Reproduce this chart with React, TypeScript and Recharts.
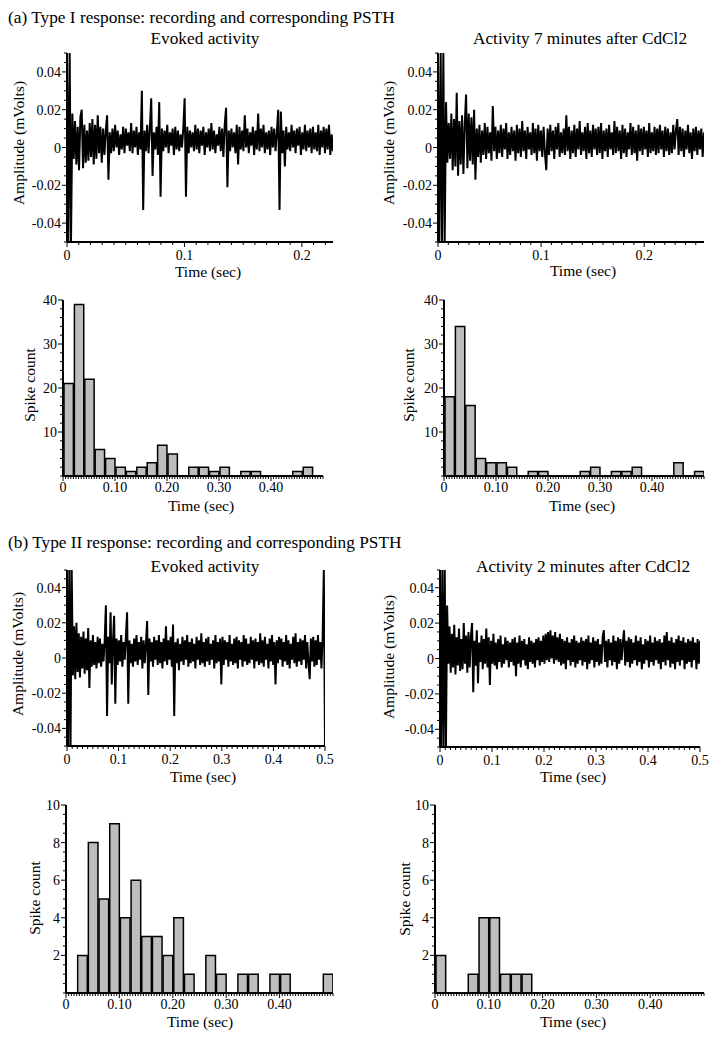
import React from 'react';
import { LineChart, Line, BarChart, Bar, XAxis, YAxis } from 'recharts';

const FONT = '"Liberation Serif", "Times New Roman", Times, serif';

// ---------- Recordings (amplitude in units of 0.001 mV) ----------
const AMP_UNIT = 0.001;

const EVOKED_A_DURATION = 0.2265;
const EVOKED_A_SAMPLES = [
  50, -50, 50, -50, 18, -6, 14, -9, 11, -12, 16, 20, -11, 12, -8, 9, -7, 13, -5, 15,
  -9, 12, -6, 17, -3, 11, -8, 10, -4, 9, 17, -17, 8, -3, 10, -2, 12, 0, 9, -4,
  7, -1, 11, -3, 10, 1, 8, -2, 13, -3, 9, 0, 11, -4, 8, -1, 30, -33, 9, -2,
  12, -3, 10, 26, -15, 8, -1, 11, -4, 24, -26, 10, -2, 9, 0, 12, -3, 8, 1, 10,
  -4, 11, -1, 9, -2, 7, 0, 10, 26, -26, 11, -3, 9, 0, 8, -2, 12, -1, 10, -3,
  9, 1, 11, -4, 8, 0, 10, -2, 13, -1, 9, -3, 7, 1, 11, -2, 10, -5, 12, 21,
  -21, 9, -2, 10, 0, 8, -3, 12, -9, 11, -1, 9, -2, 17, 0, 10, -3, 8, 1, 11,
  -4, 9, -1, 18, -2, 10, 0, 12, -3, 8, -1, 9, -4, 11, 0, 10, -2, 8, 20, -33,
  19, -3, 9, -10, 11, -1, 8, -2, 12, 0, 9, -3, 10, 1, 11, -4, 8, -1, 12, -2,
  9, 0, 10, -3, 11, -1, 8, -2, 12, -4, 9, 0, 11, -3, 10, -1, 12, -4, 7, -2,
];

const CDCL2_A_DURATION = 0.258;
const CDCL2_A_SAMPLES = [
  50, -50, 50, -50, 50, -50, 24, -8, 13, -6, 18, -12, 15, -10, 29, -15, 14, -9, 17, -14,
  12, 28, -11, 18, -7, 16, -9, 20, -17, 10, -5, 12, -8, 9, -4, 13, -6, 11, -3, 8,
  -7, 22, -2, 11, -6, 9, -3, 12, -5, 10, -1, 13, -6, 8, -4, 11, -2, 9, -7, 12,
  -3, 10, -5, 14, -2, 9, -6, 11, -1, 8, -4, 13, -3, 10, -7, 12, -2, 9, -5, 11,
  -3, -12, 10, -4, 12, -2, 9, -6, 11, -1, 13, -5, 8, -3, 10, -4, 17, -2, 11, -6,
  9, -3, 12, -5, 10, -1, 14, -4, 8, -2, 11, -6, 13, -3, 9, -5, 12, -1, 10, -4,
  11, -3, 13, -6, 9, -2, 10, -5, 12, -1, 8, -4, 14, -3, 11, -2, 9, -6, 12, -3,
  10, -5, 8, -1, 13, -4, 11, -3, 9, -7, 12, -2, 10, -4, 11, -1, 9, -5, 13, -3,
  8, -2, 11, -4, 10, -3, 12, -1, 9, -5, 11, -2, 10, -4, 8, -3, 12, -1, 9, 15,
  -4, 11, -2, 10, -5, 9, -1, 12, -3, 8, -6, 10, -2, 11, -4, 9, -1, 10, -5, 8,
];

const EVOKED_B_DURATION = 0.5;
const EVOKED_B_SAMPLES = [
  50, -50, 50, -50, 50, -10, 18, -12, 20, -8, 14, -11, 12, -6, 15, -9, 11, -7, 17, -17,
  10, -5, 13, -4, 9, -6, 12, -3, 11, -5, 8, -2, 10, 30, -33, 12, -3, 26, -15, 9,
  24, -26, 11, -4, 10, -2, 13, -5, 9, -1, 12, 26, -26, 10, -3, 8, -5, 11, -2, 13,
  -4, 9, -1, 12, -6, 10, -3, 8, 21, -21, 11, -2, 9, -5, 12, -1, 10, -4, 13, -3,
  9, -6, 11, -2, 18, -4, 10, -1, 12, -5, 19, -33, 9, -3, 11, -7, 8, -2, 12, -4,
  10, -1, 13, -5, 9, -3, 11, -2, 8, -6, 12, -1, 10, -4, 14, -3, 9, -5, 11, -2,
  12, -4, 8, -1, 10, -6, 13, -3, 9, -2, 11, -15, 12, -4, 10, -1, 9, -5, 13, -2,
  8, -4, 11, -3, 12, -6, 10, -1, 9, -5, 13, -2, 11, -4, 8, -3, 12, -1, 10, -6,
  11, -2, 9, -4, 14, -3, 10, -5, 12, -1, 8, -6, 11, -2, 13, -4, 9, -15, 10, -3,
  12, -1, 11, -5, 9, -2, 13, -4, 10, -6, 8, -1, 12, -3, 14, -5, 9, -2, 11, -4,
  10, -1, 13, -6, 9, -3, -12, 11, -2, 12, -5, 10, -4, 13, -1, 9, -6, 12, 50, -50,
];

const CDCL2_B_DURATION = 0.5;
const CDCL2_B_SAMPLES = [
  50, -50, 50, -50, 50, -50, 30, -3, 18, -8, 14, -5, 19, -9, 12, -4, 17, -7, 11, -6,
  20, -3, 13, -8, 15, -5, 12, 20, -19, 10, -4, 16, -14, 9, -2, 13, -6, 11, -3, 17,
  -5, 12, -15, 10, -3, 14, -4, 9, -6, 11, -2, 13, -5, 8, -3, 12, -1, 10, -5, 9,
  -2, 11, -4, 12, -10, 9, -3, 13, -5, 10, -1, 11, -4, 8, -6, 12, -2, 10, -3, 9,
  -5, 11, -1, 12, -4, 10, -2, 13, -3, 14, -1, 15, -2, 16, 0, 13, -3, 15, -1, 12,
  -2, 14, -4, 11, -3, 10, -6, 12, -1, 9, -4, 11, -2, 13, -5, 10, -3, 9, -1, 12,
  -4, 10, -2, 11, -6, 13, -3, 9, -1, 12, -5, 10, -2, 11, -4, 8, -3, 12, 16, -2,
  10, -5, 11, -1, 9, -4, 13, -2, 10, -6, 12, -3, 11, -1, 9, 16, -4, 10, -2, 12,
  -5, 11, -3, 9, -1, 13, -4, 10, -2, 12, -6, 8, -3, 11, -1, 10, -5, 13, -2, 9,
  -4, 12, -1, 10, -3, 11, -6, 9, -2, 13, -4, 15, -1, 10, -5, 12, -3, 9, -6, 11,
  -2, 13, -4, 10, -1, 12, -6, 9, -3, 11, -2, 10, -5, 12, -1, 9, -6, 11, -3, 10,
];

// ---------- PSTH (spike counts per 0.02 s bin) ----------
const BIN_WIDTH = 0.02;
const PSTH_EVOKED_A = [21, 39, 22, 6, 4, 2, 1, 2, 3, 7, 5, 0, 2, 2, 1, 2, 0, 1, 1, 0, 0, 0, 1, 2, 0];
const PSTH_CDCL2_A = [18, 34, 16, 4, 3, 3, 2, 0, 1, 1, 0, 0, 0, 1, 2, 0, 1, 1, 2, 0, 0, 0, 3, 0, 1];
const PSTH_EVOKED_B = [0, 2, 8, 5, 9, 4, 6, 3, 3, 2, 4, 1, 0, 2, 1, 0, 1, 1, 0, 1, 1, 0, 0, 0, 1];
const PSTH_CDCL2_B = [2, 0, 0, 1, 4, 4, 1, 1, 1, 0, 0, 0, 0, 0, 0, 0, 0, 0, 0, 0, 0, 0, 0, 0, 0];

// ---------- Tick values / labels ----------
const AMP_TICKS = [-0.04, -0.02, 0, 0.02, 0.04];
const AMP_LABELS = ['-0.04', '-0.02', '0', '0.02', '0.04'];
const TIME_TICKS_SHORT = [0, 0.1, 0.2];
const TIME_LABELS_SHORT = ['0', '0.1', '0.2'];
const TIME_TICKS_LONG = [0, 0.1, 0.2, 0.3, 0.4, 0.5];
const TIME_LABELS_LONG = ['0', '0.1', '0.2', '0.3', '0.4', '0.5'];
const PSTH_TIME_TICKS = [0, 0.1, 0.2, 0.3, 0.4];
const PSTH_TIME_LABELS = ['0', '0.10', '0.20', '0.30', '0.40'];
const COUNT_TICKS_A = [10, 20, 30, 40];
const COUNT_LABELS_A = ['10', '20', '30', '40'];
const COUNT_TICKS_B = [2, 4, 6, 8, 10];
const COUNT_LABELS_B = ['2', '4', '6', '8', '10'];

const range = (a: number, b: number, step: number) => {
  const n = Math.round((b - a) / step);
  const out: number[] = [];
  for (let i = 0; i <= n; i++) out.push(+(a + i * step).toFixed(6));
  return out;
};

type Rect = { x0: number; y0: number; x1: number; y1: number };
const PAD_L = 70;
const PAD_T = 10;
const PAD_R = 10;
const AX_H = 40;
const TICK_FS = 14;

function makeXTick(majors: number[], labels: string[], labelDy: number) {
  return (props: any) => {
    const { x, y, payload } = props;
    const k = majors.findIndex((m) => Math.abs(m - payload.value) < 1e-7);
    const major = k >= 0;
    return (
      <g>
        <line x1={x} x2={x} y1={y} y2={y + (major ? 5 : 3)} stroke="#000" strokeWidth={1} />
        {major && (
          <text x={x} y={y + labelDy} textAnchor="middle" fontFamily={FONT} fontSize={TICK_FS} fill="#000">
            {labels[k]}
          </text>
        )}
      </g>
    );
  };
}

function makeYTick(majors: number[], labels: string[]) {
  return (props: any) => {
    const { x, y, payload } = props;
    const k = majors.findIndex((m) => Math.abs(m - payload.value) < 1e-7);
    const major = k >= 0;
    return (
      <g>
        <line x1={x - (major ? 5 : 3)} x2={x} y1={y} y2={y} stroke="#000" strokeWidth={1} />
        {major && (
          <text x={x - 6} y={y + 5} textAnchor="end" fontFamily={FONT} fontSize={TICK_FS} fill="#000">
            {labels[k]}
          </text>
        )}
      </g>
    );
  };
}

function frameStyle(r: Rect): React.CSSProperties {
  return { position: 'absolute', left: r.x0 - PAD_L, top: r.y0 - PAD_T };
}

function Recording(props: {
  samples: number[];
  duration: number;
  rect: Rect;
  timeTicks: number[];
  timeLabels: string[];
}) {
  const { samples, duration, rect, timeTicks, timeLabels } = props;
  const data = samples.map((v, i) => ({ t: (i * duration) / (samples.length - 1), v: v * AMP_UNIT }));
  const w = rect.x1 - rect.x0 + PAD_L + PAD_R;
  const h = rect.y1 - rect.y0 + PAD_T + AX_H;
  const xMinor = range(0, Math.floor(duration * 100) / 100, 0.01);
  const yMinor = range(-0.05, 0.05, 0.005);
  return (
    <div style={frameStyle(rect)}>
      <LineChart width={w} height={h} data={data} margin={{ top: PAD_T, right: PAD_R, bottom: 0, left: 0 }}>
        <XAxis
          dataKey="t"
          type="number"
          domain={[0, duration]}
          allowDataOverflow
          ticks={xMinor}
          interval={0}
          tickLine={false}
          tickSize={0}
          tickMargin={0}
          height={AX_H}
          axisLine={{ stroke: '#000', strokeWidth: 2 }}
          tick={makeXTick(timeTicks, timeLabels, 17.5)}
        />
        <YAxis
          type="number"
          domain={[-0.05, 0.05]}
          allowDataOverflow
          ticks={yMinor}
          interval={0}
          tickLine={false}
          tickSize={0}
          tickMargin={0}
          width={PAD_L}
          axisLine={{ stroke: '#000', strokeWidth: 2 }}
          tick={makeYTick(AMP_TICKS, AMP_LABELS)}
        />
        <Line
          dataKey="v"
          type="linear"
          stroke="#000"
          strokeWidth={2}
          strokeLinejoin="bevel"
          dot={false}
          activeDot={false}
          isAnimationActive={false}
        />
      </LineChart>
    </div>
  );
}

function Psth(props: {
  counts: number[];
  rect: Rect;
  yMax: number;
  yTicks: number[];
  yLabels: string[];
  yMinorStep: number;
}) {
  const { counts, rect, yMax, yTicks, yLabels, yMinorStep } = props;
  const data = counts.map((c, i) => ({ x: (i + 0.5) * BIN_WIDTH, c }));
  const xMax = counts.length * BIN_WIDTH;
  const plotW = rect.x1 - rect.x0;
  const w = plotW + PAD_L + PAD_R;
  const h = rect.y1 - rect.y0 + PAD_T + AX_H;
  const xMinor = range(0, xMax, 0.005);
  const yMinor = range(0, yMax, yMinorStep);
  return (
    <div style={frameStyle(rect)}>
      <BarChart
        width={w}
        height={h}
        data={data}
        margin={{ top: PAD_T, right: PAD_R, bottom: 0, left: 0 }}
        barCategoryGap={0}
        barGap={0}
      >
        <XAxis
          dataKey="x"
          type="number"
          domain={[0, xMax]}
          allowDataOverflow
          ticks={xMinor}
          interval={0}
          tickLine={false}
          tickSize={0}
          tickMargin={0}
          height={AX_H}
          axisLine={{ stroke: '#000', strokeWidth: 2 }}
          tick={makeXTick(PSTH_TIME_TICKS, PSTH_TIME_LABELS, 16)}
        />
        <YAxis
          type="number"
          domain={[0, yMax]}
          allowDataOverflow
          ticks={yMinor}
          interval={0}
          tickLine={false}
          tickSize={0}
          tickMargin={0}
          width={PAD_L}
          axisLine={{ stroke: '#000', strokeWidth: 2 }}
          tick={makeYTick(yTicks, yLabels)}
        />
        <Bar
          dataKey="c"
          fill="#bdbdbd"
          stroke="#000"
          strokeWidth={1.5}
          barSize={(plotW * BIN_WIDTH) / xMax}
          isAnimationActive={false}
        />
      </BarChart>
    </div>
  );
}

// ---------- Layout ----------
const R_A1: Rect = { x0: 67, y0: 53, x1: 333, y1: 242 };
const R_A2: Rect = { x0: 438, y0: 53, x1: 704, y1: 242 };
const R_A3: Rect = { x0: 63, y0: 300, x1: 323, y1: 476 };
const R_A4: Rect = { x0: 444, y0: 300, x1: 704, y1: 476 };
const R_B1: Rect = { x0: 67, y0: 570, x1: 325, y1: 746 };
const R_B2: Rect = { x0: 440, y0: 570, x1: 700, y1: 747 };
const R_B3: Rect = { x0: 66, y0: 805, x1: 333, y1: 993 };
const R_B4: Rect = { x0: 435, y0: 805, x1: 704, y1: 993 };

const HEAD_FS = 17.3;
const AXT_FS = 15.5;

const Txt = (p: { x: number; y: number; size: number; anchor?: string; children: React.ReactNode }) => (
  <text x={p.x} y={p.y} fontFamily={FONT} fontSize={p.size} fill="#000" textAnchor={(p.anchor as any) || 'middle'}>
    {p.children}
  </text>
);

const VTxt = (p: { cx: number; cy: number; children: React.ReactNode }) => {
  const bx = p.cx + 5;
  return (
    <text
      x={bx}
      y={p.cy}
      transform={`rotate(-90 ${bx} ${p.cy})`}
      fontFamily={FONT}
      fontSize={AXT_FS}
      fill="#000"
      textAnchor="middle"
    >
      {p.children}
    </text>
  );
};

export default function App() {
  return (
    <div style={{ position: 'absolute', left: 0, top: 0, width: 714, height: 1038, background: '#fff', overflow: 'hidden' }}>
      <Recording samples={EVOKED_A_SAMPLES} duration={EVOKED_A_DURATION} rect={R_A1} timeTicks={TIME_TICKS_SHORT} timeLabels={TIME_LABELS_SHORT} />
      <Recording samples={CDCL2_A_SAMPLES} duration={CDCL2_A_DURATION} rect={R_A2} timeTicks={TIME_TICKS_SHORT} timeLabels={TIME_LABELS_SHORT} />
      <Psth counts={PSTH_EVOKED_A} rect={R_A3} yMax={40} yTicks={COUNT_TICKS_A} yLabels={COUNT_LABELS_A} yMinorStep={2} />
      <Psth counts={PSTH_CDCL2_A} rect={R_A4} yMax={40} yTicks={COUNT_TICKS_A} yLabels={COUNT_LABELS_A} yMinorStep={2} />
      <Recording samples={EVOKED_B_SAMPLES} duration={EVOKED_B_DURATION} rect={R_B1} timeTicks={TIME_TICKS_LONG} timeLabels={TIME_LABELS_LONG} />
      <Recording samples={CDCL2_B_SAMPLES} duration={CDCL2_B_DURATION} rect={R_B2} timeTicks={TIME_TICKS_LONG} timeLabels={TIME_LABELS_LONG} />
      <Psth counts={PSTH_EVOKED_B} rect={R_B3} yMax={10} yTicks={COUNT_TICKS_B} yLabels={COUNT_LABELS_B} yMinorStep={0.5} />
      <Psth counts={PSTH_CDCL2_B} rect={R_B4} yMax={10} yTicks={COUNT_TICKS_B} yLabels={COUNT_LABELS_B} yMinorStep={0.5} />

      <svg width={714} height={1038} style={{ position: 'absolute', left: 0, top: 0, pointerEvents: 'none' }}>
        <Txt x={8} y={23} size={HEAD_FS} anchor="start">(a) Type I response: recording and corresponding PSTH</Txt>
        <Txt x={205} y={44} size={HEAD_FS}>Evoked activity</Txt>
        <Txt x={580} y={44} size={HEAD_FS}>Activity 7 minutes after CdCl2</Txt>
        <Txt x={8} y={548} size={HEAD_FS} anchor="start">(b) Type II response: recording and corresponding PSTH</Txt>
        <Txt x={205} y={572} size={HEAD_FS}>Evoked activity</Txt>
        <Txt x={583} y={572} size={HEAD_FS}>Activity 2 minutes after CdCl2</Txt>

        <VTxt cx={18.5} cy={143}>Amplitude (mVolts)</VTxt>
        <VTxt cx={389} cy={143}>Amplitude (mVolts)</VTxt>
        <VTxt cx={30} cy={385}>Spike count</VTxt>
        <VTxt cx={409} cy={385}>Spike count</VTxt>
        <VTxt cx={18} cy={654}>Amplitude (mVolts)</VTxt>
        <VTxt cx={389} cy={657}>Amplitude (mVolts)</VTxt>
        <VTxt cx={35} cy={898}>Spike count</VTxt>
        <VTxt cx={405} cy={899}>Spike count</VTxt>

        <Txt x={208} y={277} size={AXT_FS}>Time (sec)</Txt>
        <Txt x={583} y={276} size={AXT_FS}>Time (sec)</Txt>
        <Txt x={201} y={511} size={AXT_FS}>Time (sec)</Txt>
        <Txt x={582} y={511} size={AXT_FS}>Time (sec)</Txt>
        <Txt x={203} y={782} size={AXT_FS}>Time (sec)</Txt>
        <Txt x={573} y={782} size={AXT_FS}>Time (sec)</Txt>
        <Txt x={200} y={1027} size={AXT_FS}>Time (sec)</Txt>
        <Txt x={573} y={1027} size={AXT_FS}>Time (sec)</Txt>
      </svg>
    </div>
  );
}
